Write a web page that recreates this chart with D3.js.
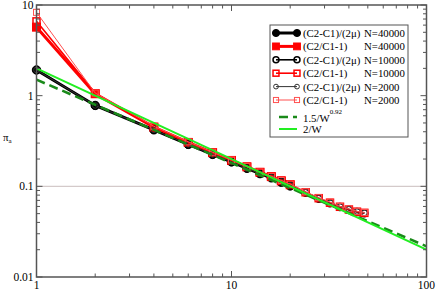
<!DOCTYPE html>
<html><head><meta charset="utf-8">
<script src="https://cdn.jsdelivr.net/npm/d3@7"></script>
<style>body{margin:0;background:#fff}svg{display:block}text{font-family:"Liberation Serif","Times New Roman",serif}</style>
</head><body><svg id="c" width="436" height="291"></svg>
<script>
const W40k = [1,2,4,6,8,10,12,14,16,18,20];
const Wall = [1,2,4,6,8,10,12,14,16,18,20,24,28,32,36,40,44,48];
const black40k = [1.92,0.78,0.42,0.29,0.225,0.186,0.158,0.138,0.124,0.111,0.101];
const red40k   = [5.7,1.05,0.45,0.305,0.235,0.193,0.164,0.143,0.128,0.115,0.104];
const black10k = [1.92,0.78,0.42,0.29,0.225,0.186,0.158,0.138,0.125,0.112,0.102,0.085,0.073,0.065,0.059,0.055,0.052,0.0505];
const red10k   = [6.6,1.06,0.45,0.305,0.235,0.193,0.164,0.143,0.128,0.115,0.105,0.086,0.074,0.066,0.0595,0.0555,0.0525,0.051];
const black2k  = [1.92,0.78,0.42,0.29,0.225,0.186,0.158,0.138,0.126,0.113,0.103,0.086,0.074,0.066,0.06,0.056,0.053,0.051];
const red2k    = [8.3,1.07,0.46,0.31,0.238,0.195,0.165,0.144,0.129,0.116,0.106,0.087,0.075,0.067,0.06,0.0565,0.053,0.0515];
const fitW = [1,100];
const fitA = [1.5,0.0218];
const fitB = [2,0.02];
const xTicks = [1,10,100];
const yTicks = [0.01,0.1,1,10];
const yTickLabels = ["0.01","0.1","1","10"];
const legendLabels = ["(C2-C1)/(2\u03bc)","(C2/C1-1)","(C2-C1)/(2\u03bc)","(C2/C1-1)","(C2-C1)/(2\u03bc)","(C2/C1-1)"];
const legendN = ["N=40000","N=40000","N=10000","N=10000","N=2000","N=2000"];

const svg = d3.select("#c");
const L=36.5,R=426.5,T=5,B=277;
const x = d3.scaleLog().domain([1,100]).range([L,R]);
const y = d3.scaleLog().domain([0.01,10]).range([B,T]);

svg.append("line").attr("x1",L).attr("x2",R).attr("y1",y(0.1)).attr("y2",y(0.1))
  .attr("stroke","#d4caca").attr("stroke-width",1.2);

const series = [
  {xs:W40k, ys:black40k, color:"#000", lw:3, shape:"circle", fill:"#000", size:4.2, sw:1},
  {xs:W40k, ys:red40k, color:"#ff0000", lw:3, shape:"square", fill:"#ff0000", size:8, sw:1},
  {xs:Wall, ys:black10k, color:"#000", lw:1.6, shape:"circle", fill:"none", size:3.5, sw:1.5},
  {xs:Wall, ys:red10k, color:"#ff0000", lw:1.6, shape:"square", fill:"none", size:7, sw:1.5},
  {xs:Wall, ys:black2k, color:"#333", lw:1, shape:"circle", fill:"none", size:2.8, sw:1},
  {xs:Wall, ys:red2k, color:"#ff5050", lw:1, shape:"square", fill:"none", size:6, sw:1}
];
const line = d3.line().x(d=>x(d[0])).y(d=>y(d[1]));
function marker(g, cx, cy, s, k){
  k = k||1;
  if(s.shape==="circle"){
    g.append("circle").attr("cx",cx).attr("cy",cy).attr("r",s.size*k)
      .attr("fill",s.fill).attr("stroke",s.color).attr("stroke-width",s.sw);
  } else {
    const z=s.size*k;
    g.append("rect").attr("x",cx-z/2).attr("y",cy-z/2).attr("width",z).attr("height",z)
      .attr("fill",s.fill).attr("stroke",s.color).attr("stroke-width",s.sw);
  }
}
const plot = svg.append("g");
series.forEach(s=>{
  const pts = s.xs.map((w,i)=>[w,s.ys[i]]);
  plot.append("path").datum(pts).attr("d",line).attr("fill","none").attr("stroke",s.color).attr("stroke-width",s.lw);
  pts.forEach(p=>marker(plot,x(p[0]),y(p[1]),s));
});
plot.append("path").datum(fitW.map((w,i)=>[w,fitA[i]])).attr("d",line).attr("fill","none")
  .attr("stroke","#1a8a1a").attr("stroke-width",2.5).attr("stroke-dasharray","9,5");
plot.append("path").datum(fitW.map((w,i)=>[w,fitB[i]])).attr("d",line).attr("fill","none")
  .attr("stroke","#22ee22").attr("stroke-width",2);

const fc="#555";
svg.append("rect").attr("x",L).attr("y",T).attr("width",R-L).attr("height",B-T).attr("fill","none").attr("stroke",fc).attr("stroke-width",1.5);
const xt = [];
for(let e=0;e<2;e++) for(let k=1;k<10;k++) xt.push(k*10**e);
xt.push(100);
const yt = [];
for(let e=-2;e<1;e++) for(let k=1;k<10;k++) yt.push(k*10**e);
yt.push(10);
const tg = svg.append("g").attr("stroke",fc).attr("stroke-width",1);
xt.forEach(v=>{
  const major = xTicks.includes(v); const len = major?6:3.5; const px=x(v);
  tg.append("line").attr("x1",px).attr("x2",px).attr("y1",B).attr("y2",B-len);
  tg.append("line").attr("x1",px).attr("x2",px).attr("y1",T).attr("y2",T+len);
});
yt.forEach(v=>{
  const major = yTicks.some(t=>Math.abs(t-v)<1e-9); const len = major?6:3.5; const py=y(v);
  tg.append("line").attr("x1",L).attr("x2",L+len).attr("y1",py).attr("y2",py);
  tg.append("line").attr("x1",R).attr("x2",R-len).attr("y1",py).attr("y2",py);
});
xTicks.forEach(v=>{
  const t = svg.append("text").attr("x",x(v)).attr("y",289).attr("text-anchor","middle").attr("font-size",11.5).text(String(v));
  if(v===100) t.attr("text-anchor","end").attr("x",435);
});
yTicks.forEach((v,i)=>{
  svg.append("text").attr("x",L-3).attr("y",y(v)+4).attr("text-anchor","end").attr("font-size",11.5).text(yTickLabels[i]);
});
const yl = svg.append("text").attr("x",3).attr("y",141).attr("font-size",11);
yl.append("tspan").text("\u03c0");
yl.append("tspan").attr("font-size",7).attr("dy",2).text("a");

const lg = svg.append("g");
lg.append("rect").attr("x",270).attr("y",25).attr("width",138).attr("height",112).attr("fill","#fff").attr("stroke",fc).attr("stroke-width",1);
const fs = 10.8;
series.forEach((s,i)=>{
  const yy = 33 + i*13.4;
  lg.append("line").attr("x1",276).attr("x2",297).attr("y1",yy).attr("y2",yy).attr("stroke",s.color).attr("stroke-width",s.lw);
  marker(lg,276,yy,s,0.85); marker(lg,297,yy,s,0.85);
  lg.append("text").attr("x",303).attr("y",yy+4).attr("font-size",fs).text(legendLabels[i]);
  lg.append("text").attr("x",364).attr("y",yy+4).attr("font-size",fs).text(legendN[i]);
});
lg.append("line").attr("x1",279).attr("x2",297).attr("y1",117).attr("y2",117).attr("stroke","#1a8a1a").attr("stroke-width",2.5).attr("stroke-dasharray","9,5");
const t7 = lg.append("text").attr("x",303).attr("y",122).attr("font-size",fs);
t7.append("tspan").text("1.5/W");
t7.append("tspan").attr("font-size",7).attr("dy",-8).text("0.92");
lg.append("line").attr("x1",279).attr("x2",297).attr("y1",129).attr("y2",129).attr("stroke","#22ee22").attr("stroke-width",2);
lg.append("text").attr("x",303).attr("y",133).attr("font-size",fs).text("2/W");
</script></body></html>
